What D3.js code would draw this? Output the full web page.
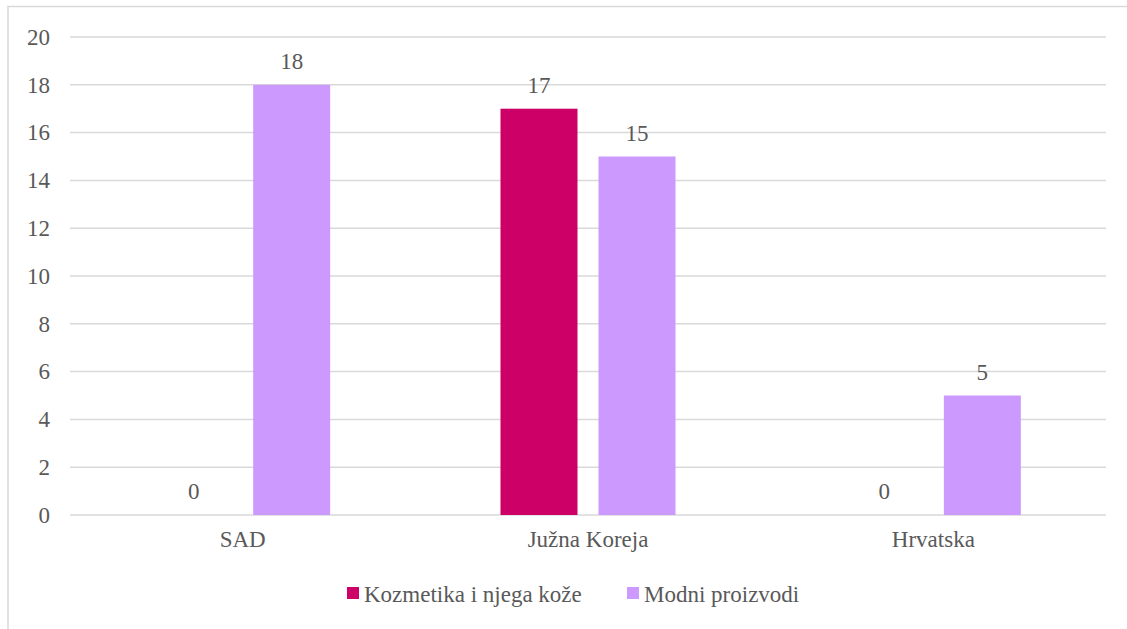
<!DOCTYPE html>
<html>
<head>
<meta charset="utf-8">
<script src="https://cdn.jsdelivr.net/npm/d3@7"></script>
<style>
  html, body { margin: 0; padding: 0; background: #ffffff; }
  svg { display: block; }
</style>
</head>
<body>
<svg id="chart" width="1127" height="629"></svg>
<script>
const categories = ["SAD", "Južna Koreja", "Hrvatska"];
const seriesNames = ["Kozmetika i njega kože", "Modni proizvodi"];
const kozmetika = [0, 17, 0];
const modni = [18, 15, 5];
const yTicks = [0, 2, 4, 6, 8, 10, 12, 14, 16, 18, 20];
const colors = ["#CC0066", "#CC99FF"];

const FONT = "Liberation Serif";
const seriesValues = [kozmetika, modni];
const svg = d3.select("#chart").style("font-family", FONT);

svg.append("rect")
  .attr("x", 8).attr("y", 6.5)
  .attr("width", 1130).attr("height", 640)
  .attr("fill", "none").attr("stroke", "#d9d9d9").attr("stroke-width", 1.5);

const plot = { left: 70, right: 1106, top: 37, bottom: 515 };

const y = d3.scaleLinear().domain([0, 20]).range([plot.bottom, plot.top]);
const x0 = d3.scaleBand().domain(categories).range([plot.left, plot.right]).padding(0);
const x1 = d3.scaleBand().domain(seriesNames).range([-87.5, 87.5]).paddingInner(21 / 98).paddingOuter(0);

svg.append("g")
  .selectAll("line")
  .data(yTicks)
  .join("line")
  .attr("x1", plot.left).attr("x2", plot.right)
  .attr("y1", d => y(d)).attr("y2", d => y(d))
  .attr("stroke", "#d9d9d9").attr("stroke-width", 1.5);

const yAxis = d3.axisLeft(y).tickValues(yTicks).tickSize(0).tickPadding(0);
const yg = svg.append("g").attr("transform", `translate(50,0)`).call(yAxis)
  .attr("font-family", FONT).attr("font-size", 23);
yg.select(".domain").remove();
yg.selectAll("text").attr("fill", "#595959");

const xAxis = d3.axisBottom(x0).tickSize(0).tickPadding(0);
const xg = svg.append("g").attr("transform", `translate(0,531)`).call(xAxis)
  .attr("font-family", FONT).attr("font-size", 23);
xg.select(".domain").remove();
xg.selectAll("text").attr("fill", "#595959").attr("dy", "0.71em");

const data = [];
categories.forEach((c, i) => {
  seriesNames.forEach((s, j) => {
    data.push({ cat: c, series: s, value: seriesValues[j][i], color: colors[j] });
  });
});

const groups = svg.append("g");
groups.selectAll("rect")
  .data(data)
  .join("rect")
  .attr("x", d => x0(d.cat) + x0.bandwidth() / 2 + x1(d.series))
  .attr("width", x1.bandwidth())
  .attr("y", d => y(d.value))
  .attr("height", d => y(0) - y(d.value))
  .attr("fill", d => d.color);

groups.selectAll("text")
  .data(data)
  .join("text")
  .attr("x", d => x0(d.cat) + x0.bandwidth() / 2 + x1(d.series) + x1.bandwidth() / 2)
  .attr("y", d => y(d.value) - 16)
  .attr("text-anchor", "middle")
  .attr("font-size", 23)
  .attr("font-family", FONT)
  .attr("fill", "#595959")
  .text(d => d.value);

const legendItems = [
  { name: seriesNames[0], color: colors[0], x: 347 },
  { name: seriesNames[1], color: colors[1], x: 627 }
];
const lg = svg.append("g");
legendItems.forEach(item => {
  lg.append("rect").attr("x", item.x).attr("y", 587).attr("width", 12).attr("height", 12).attr("fill", item.color);
  lg.append("text").attr("x", item.x + 17).attr("y", 602).attr("font-size", 23)
    .attr("font-family", FONT).attr("fill", "#595959").text(item.name);
});
</script>
</body>
</html>
